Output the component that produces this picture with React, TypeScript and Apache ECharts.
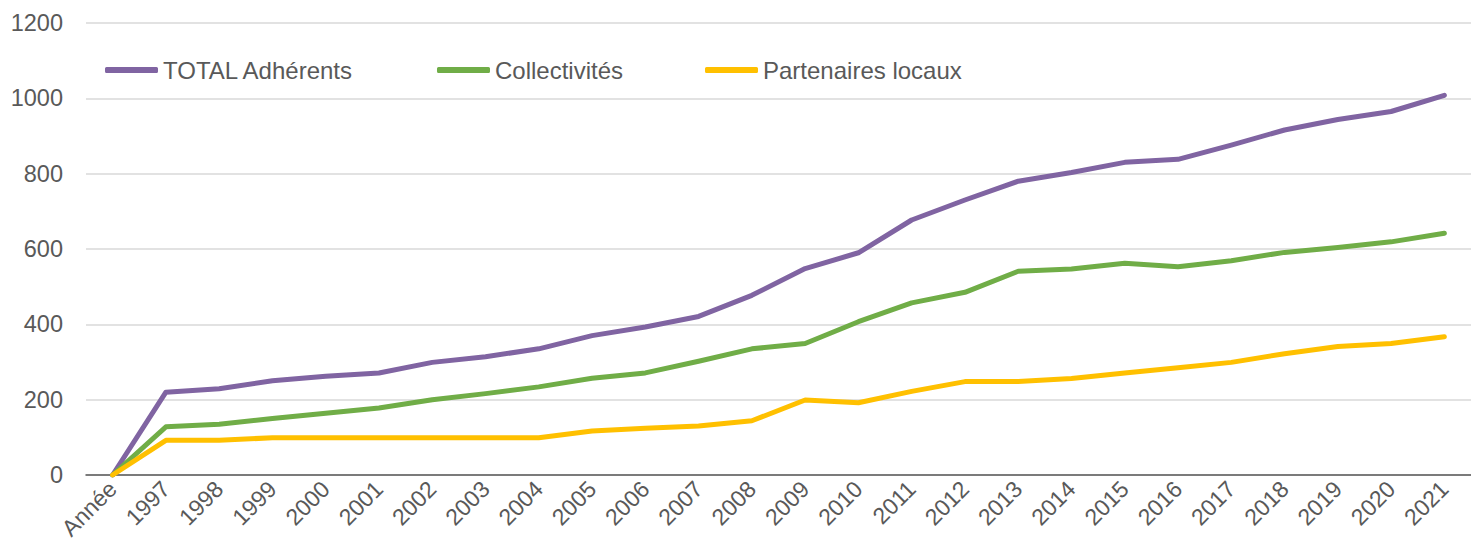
import React, { useEffect, useRef } from "react";
import * as echarts from "echarts";

const categories = ["Année", "1997", "1998", "1999", "2000", "2001", "2002", "2003", "2004", "2005", "2006", "2007", "2008", "2009", "2010", "2011", "2012", "2013", "2014", "2015", "2016", "2017", "2018", "2019", "2020", "2021"];
const totalAdherents = [0, 220, 229, 250, 262, 271, 299, 314, 335, 370, 393, 421, 477, 548, 590, 677, 730, 780, 803, 830, 838, 876, 916, 944, 965, 1008];
const collectivites = [0, 128, 135, 150, 164, 178, 200, 216, 234, 257, 271, 302, 335, 349, 407, 457, 485, 541, 547, 562, 553, 569, 591, 604, 619, 642];
const partenaires = [0, 92, 92, 99, 99, 99, 99, 99, 99, 117, 124, 130, 144, 199, 192, 222, 248, 248, 256, 271, 285, 299, 322, 341, 349, 367];
const yTicks = { min: 0, max: 1200, interval: 200 };

const FONT = "'Liberation Sans', Arial, sans-serif";
const TEXT = "#595959";

export default function App() {
  const ref = useRef<HTMLDivElement>(null);
  useEffect(() => {
    if (!ref.current) return;
    const chart = echarts.init(ref.current, null, { renderer: "svg" });
    const mkLegend = (name: string, left: number) => ({
      data: [name],
      left,
      top: 57,
      padding: 0,
      icon: "roundRect",
      itemWidth: 53,
      itemHeight: 6,
      selectedMode: false,
      textStyle: { fontFamily: FONT, fontSize: 24, color: TEXT, lineHeight: 26 },
    });
    const mkSeries = (name: string, data: number[], color: string) => ({
      name,
      type: "line",
      data,
      symbol: "none",
      lineStyle: { color, width: 5, cap: "round", join: "round" },
      itemStyle: { color },
      z: 3,
    });
    chart.setOption({
      animation: false,
      backgroundColor: "#ffffff",
      textStyle: { fontFamily: FONT },
      grid: { left: 86, right: -5, top: 23, bottom: 78 },
      legend: [
        mkLegend("TOTAL Adhérents", 105),
        mkLegend("Collectivités", 437),
        mkLegend("Partenaires locaux", 705),
      ],
      xAxis: {
        type: "category",
        data: categories,
        boundaryGap: true,
        axisLine: { show: true, lineStyle: { color: "#595959", width: 1.5 } },
        axisTick: { show: false },
        axisLabel: {
          rotate: 45,
          interval: 0,
          margin: 10,
          fontFamily: FONT,
          fontSize: 23,
          color: TEXT,
        },
      },
      yAxis: {
        type: "value",
        min: yTicks.min,
        max: yTicks.max,
        interval: yTicks.interval,
        axisLine: { show: false },
        axisTick: { show: false },
        splitLine: { lineStyle: { color: "#d9d9d9", width: 1.5 } },
        axisLabel: {
          margin: 23,
          fontFamily: FONT,
          fontSize: 23.5,
          color: TEXT,
          formatter: (v: number) => String(v),
        },
      },
      series: [
        mkSeries("TOTAL Adhérents", totalAdherents, "#8064A2"),
        mkSeries("Collectivités", collectivites, "#70AD47"),
        mkSeries("Partenaires locaux", partenaires, "#FFC000"),
      ],
    });
    return () => chart.dispose();
  }, []);
  return (
    <div
      ref={ref}
      style={{ position: "fixed", left: 0, top: 0, width: 1471, height: 553, background: "#fff" }}
    />
  );
}
